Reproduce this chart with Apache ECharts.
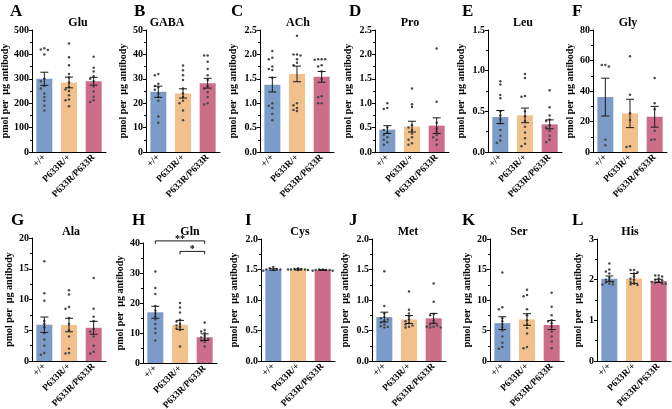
<!DOCTYPE html>
<html><head><meta charset="utf-8">
<script src="https://cdn.jsdelivr.net/npm/echarts@6/dist/echarts.min.js"></script>
<style>html,body{margin:0;padding:0;background:#fff}#c{width:672px;height:409px}</style>
</head><body><div id="c"></div>
<script>
const groups = ['+/+', 'P633R/+', 'P633R/P633R'];
const letters = ['A','B','C','D','E','F','G','H','I','J','K','L'];
const analytes = ['Glu','GABA','ACh','Pro','Leu','Gly','Ala','Gln','Cys','Met','Ser','His'];
const yMax = [500, 50, 2.5, 2.5, 1.5, 80, 20, 40, 2.0, 2.0, 20, 3];
const yStep = [100, 10, 0.5, 0.5, 0.5, 20, 5, 10, 0.5, 0.5, 5, 1];
const meanVals = [
  [300, 285, 290],
  [24.7, 24, 28.2],
  [1.38, 1.6, 1.54],
  [0.46, 0.52, 0.54],
  [0.43, 0.45, 0.34],
  [36, 25.3, 23.1],
  [5.9, 5.85, 5.4],
  [16.9, 12.7, 8.6],
  [1.5, 1.5, 1.49],
  [0.72, 0.68, 0.7],
  [6.2, 6.8, 5.9],
  [2.02, 2.03, 1.97]
];
const semVals = [
  [27, 22, 16],
  [2.3, 1.9, 2.0],
  [0.15, 0.16, 0.11],
  [0.08, 0.11, 0.16],
  [0.08, 0.09, 0.055],
  [12.4, 9.3, 6.8],
  [1.25, 1.1, 1.05],
  [2.0, 1.5, 1.1],
  [0.012, 0.008, 0.006],
  [0.08, 0.065, 0.08],
  [1.05, 0.95, 0.75],
  [0.07, 0.12, 0.04]
];
const ptsGlu = [[425,420,418,400,300,290,270,260,240,225,210,190,170],[445,388,356,320,305,285,265,256,250,233,215,212,187],[390,345,330,310,300,290,268,248,226,212,205]];
const ptsGABA = [[32,31.5,28,27,26.5,25.5,24,22.5,21,14.5,12],[35.5,33.5,31.5,29.5,26,24,22.5,21,20,17,13],[39.5,39.5,37,34,31.5,29.5,27,26,24.5,22.5,20,19.5]];
const ptsACh = [[2.07,1.93,1.9,1.75,1.7,1.68,1.52,1.0,0.95,0.9,0.78,0.65],[2.38,2.0,2.0,1.98,1.9,1.83,1.78,1.0,0.96,0.9,0.86,0.84],[1.9,1.9,1.9,1.89,1.78,1.75,1.65,1.5,1.14,1.12,1.0,1.0]];
const ptsPro = [[1.0,0.9,0.88,0.5,0.45,0.4,0.35,0.3,0.25,0.2,0.15],[1.3,0.98,0.92,0.55,0.5,0.45,0.38,0.3,0.25,0.18,0.15],[2.12,1.03,0.6,0.48,0.42,0.35,0.3,0.25,0.15]];
const ptsLeu = [[0.87,0.83,0.7,0.66,0.5,0.45,0.4,0.35,0.27,0.2,0.14,0.11],[0.96,0.91,0.69,0.68,0.5,0.44,0.38,0.31,0.24,0.17,0.1,0.07],[0.76,0.55,0.45,0.4,0.38,0.33,0.3,0.26,0.2,0.15,0.12]];
const ptsGly = [[57,57,56,8,4.4],[62.8,37.5,25.4,21,3.7,3.3],[48.5,32,28,14,8.2,8]];
const ptsAla = [[16.2,11,9.8,6.5,6,5.5,4.5,3.5,2.5,1.3,1.0],[11.5,10.8,8.8,8.5,7,6,5,4,2,1.3,1.2],[13.5,8.5,7.2,6.5,5.2,4.8,4,2.5,1.5,1.2]];
const ptsGln = [[30.5,25,23,19,17.5,16.5,15.5,14.5,13,11.5,10,7.5],[20,18.5,16.8,14.4,13.8,13,12.5,12,11.5,11,5.5],[13.5,11,10.5,10,9,8.5,8,8,7.5,7,5.5]];
const ptsCys = [[1.54,1.52,1.51,1.5,1.5,1.49,1.48],[1.52,1.51,1.51,1.5,1.5,1.5,1.49,1.49],[1.5,1.5,1.49,1.49,1.49,1.48,1.48]];
const ptsMet = [[1.47,0.9,0.78,0.72,0.7,0.68,0.65,0.63,0.6,0.57,0.56,0.55],[1.14,0.84,0.78,0.73,0.68,0.65,0.62,0.6,0.58,0.56,0.55],[1.27,0.97,0.77,0.75,0.67,0.62,0.6,0.58,0.56,0.55,0.55,0.56]];
const ptsSer = [[14.5,8.8,8.5,7,6.5,6,5.5,5,4,3,2.3,2],[11.7,10.8,10.6,8.5,7.5,6.7,6,5.4,4.5,2.3,2.1],[11.2,8.9,7.5,6.7,6.5,6.2,5.6,4.8,4,3.2,2.1]];
const ptsHis = [[2.4,2.25,2.2,2.15,2.05,2.0,1.98,1.95,1.93,1.9,1.88,1.88],[2.24,2.24,2.18,2.15,2.08,2.02,2.0,1.95,1.9,1.88,1.87],[2.1,2.1,2.08,2.03,2.0,1.98,1.96,1.94,1.92,1.9,1.9]];
const allPts = [ptsGlu, ptsGABA, ptsACh, ptsPro, ptsLeu, ptsGly, ptsAla, ptsGln, ptsCys, ptsMet, ptsSer, ptsHis];
// Gln significance brackets: [from group, to group, level, label]
const glnSig = [[0, 2, 40.7, '**'], [1, 2, 37.2, '*']];

// layout (positions only)
const colors = ['#7b9cc8', '#f2c08b', '#cc6e89'];
const gridLeft = [32, 146, 260, 375, 488, 593, 32, 143, 261, 372, 490, 597];
const gridTop = [30, 30, 30, 30, 30, 30, 238, 243, 239, 239, 239, 239];
const gridHt = [122, 122, 122, 122, 122, 122, 123, 120, 122, 122, 122, 122];
const rowTitleTop = [12, 221];
const gridW = 74;
const titleX = [73, 162, 293, 405, 518, 623, 66, 185, 295, 403, 514, 625];
const letterX = [5, 129, 226, 344, 457, 567, 6, 127, 240, 344, 457, 567];
const nameGaps = [22, 18, 22, 22, 22, 18, 18, 18, 22, 22, 18, 14];
const FONT = 'Liberation Serif';

function swarm(vals, pxPerUnit) {
  const placed = [], out = [];
  const cands = [0, -3.5, 3.5, -7, 7, -10, 10];
  vals.forEach(v => {
    const y = v * pxPerUnit;
    let dx = 0;
    for (const c of cands) {
      if (!placed.some(p => Math.abs(p.y - y) < 2.8 && Math.abs(p.x - c) < 3)) { dx = c; break; }
    }
    placed.push({x: dx, y});
    out.push(dx);
  });
  return out;
}

const grids = [], xAxes = [], yAxes = [], series = [], titles = [];
for (let i = 0; i < 12; i++) {
  const row = i < 6 ? 0 : 1;
  grids.push({left: gridLeft[i], top: gridTop[i], width: gridW, height: gridHt[i], outerBoundsMode: 'none', containLabel: false});
  xAxes.push({
    gridIndex: i, type: 'category', data: groups,
    axisLine: {lineStyle: {color: '#000', width: 1}},
    axisTick: {show: false},
    axisLabel: {rotate: 45, interval: 0, margin: 4, fontFamily: FONT, fontWeight: 'bold', fontSize: 9.5, color: '#000'}
  });
  const step = yStep[i];
  yAxes.push({
    gridIndex: i, type: 'value', min: 0, max: yMax[i], interval: step,
    axisLine: {show: true, lineStyle: {color: '#000', width: 1}},
    axisTick: {show: true, length: 3, lineStyle: {color: '#000'}},
    minorTick: {show: true, splitNumber: 2, length: 2, lineStyle: {color: '#000'}},
    splitLine: {show: false},
    axisLabel: {margin: 3, fontFamily: FONT, fontWeight: 'bold', fontSize: 10, color: '#000',
      formatter: v => step < 1 ? v.toFixed(1) : String(v)},
    name: 'pmol per  µg antibody', nameLocation: 'middle', nameGap: nameGaps[i],
    nameTextStyle: {fontFamily: FONT, fontWeight: 'bold', fontSize: 10, color: '#000'}
  });
  titles.push({text: analytes[i], left: titleX[i], top: rowTitleTop[row], textAlign: 'center',
    textStyle: {fontFamily: FONT, fontWeight: 'bold', fontSize: 12, color: '#000'}});
  titles.push({text: letters[i], left: letterX[i], top: rowTitleTop[row] - 14,
    textStyle: {fontFamily: FONT, fontWeight: 'bold', fontSize: 17, color: '#000'}});

  series.push({
    type: 'bar', xAxisIndex: i, yAxisIndex: i, barWidth: 16, z: 2,
    data: meanVals[i].map((m, g) => ({value: m, itemStyle: {color: colors[g]}})),
    silent: true, animation: false
  });
  const ppu = gridHt[i] / yMax[i];
  const ptData = [];
  allPts[i].forEach((arr, g) => {
    const sorted = arr.slice().sort((a, b) => b - a);
    const dxs = swarm(sorted, ppu);
    sorted.forEach((v, k) => ptData.push([g, v, dxs[k]]));
  });
  series.push({
    type: 'custom', xAxisIndex: i, yAxisIndex: i, z: 3, silent: true, animation: false,
    data: ptData,
    renderItem: (params, api) => {
      const p = api.coord([api.value(0), api.value(1)]);
      return {type: 'circle', shape: {cx: p[0] + api.value(2), cy: p[1], r: 1.25}, style: {fill: '#4a4a4a'}};
    }
  });
  series.push({
    type: 'custom', xAxisIndex: i, yAxisIndex: i, z: 4, silent: true, animation: false,
    data: meanVals[i].map((m, g) => [g, m, semVals[i][g]]),
    renderItem: (params, api) => {
      const x = api.value(0), m = api.value(1), s = api.value(2);
      const t = api.coord([x, m + s]), b = api.coord([x, m - s]);
      const hw = 4, st = {stroke: '#1a1a1a', lineWidth: 1};
      return {type: 'group', children: [
        {type: 'line', shape: {x1: t[0], y1: t[1], x2: b[0], y2: b[1]}, style: st},
        {type: 'line', shape: {x1: t[0] - hw, y1: t[1], x2: t[0] + hw, y2: t[1]}, style: st},
        {type: 'line', shape: {x1: b[0] - hw, y1: b[1], x2: b[0] + hw, y2: b[1]}, style: st}
      ]};
    }
  });
}
// significance brackets on Gln panel (index 7)
series.push({
  type: 'custom', xAxisIndex: 7, yAxisIndex: 7, z: 5, silent: true, animation: false, clip: false,
  data: glnSig,
  renderItem: (params, api) => {
    const a = api.coord([api.value(0), api.value(2)]);
    const b = api.coord([api.value(1), api.value(2)]);
    const label = glnSig[params.dataIndex][3];
    const st = {stroke: '#1a1a1a', lineWidth: 1, fill: null};
    return {type: 'group', children: [
      {type: 'polyline', shape: {points: [[a[0], a[1] + 3], [a[0], a[1]], [b[0], b[1]], [b[0], b[1] + 3]]}, style: st},
      {type: 'text', x: (a[0] + b[0]) / 2, y: a[1] + 3.5, style: {text: label, textAlign: 'center', textVerticalAlign: 'bottom',
        font: 'bold 10px "Liberation Serif"', fill: '#000'}}
    ]};
  }
});

const chart = echarts.init(document.getElementById('c'), null, {renderer: 'canvas'});
chart.setOption({
  backgroundColor: '#fff', animation: false,
  title: titles, grid: grids, xAxis: xAxes, yAxis: yAxes, series: series
});
</script></body></html>
